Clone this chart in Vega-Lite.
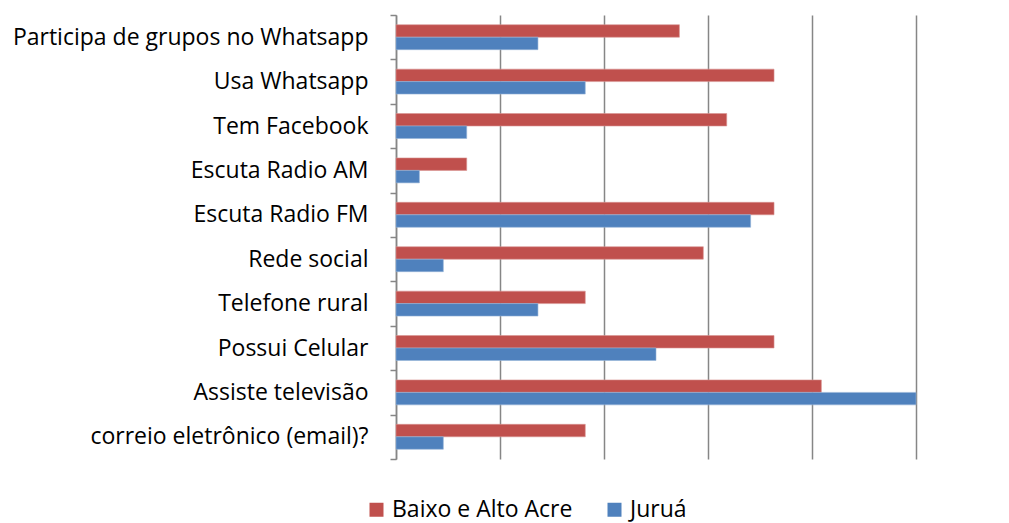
{
  "$schema": "https://vega.github.io/schema/vega-lite/v6.json",
  "width": 520,
  "height": 444,
  "autosize": {"type": "none"},
  "padding": {"left": 396, "top": 15, "right": 93, "bottom": 64},
  "background": "white",
  "config": {"view": {"stroke": null}, "font": "Open Sans"},
  "data": {"values": [
    {"item": "Participa de grupos no Whatsapp", "serie": "Baixo e Alto Acre", "v": 54.5},
    {"item": "Participa de grupos no Whatsapp", "serie": "Juruá", "v": 27.3},
    {"item": "Usa Whatsapp", "serie": "Baixo e Alto Acre", "v": 72.7},
    {"item": "Usa Whatsapp", "serie": "Juruá", "v": 36.4},
    {"item": "Tem Facebook", "serie": "Baixo e Alto Acre", "v": 63.6},
    {"item": "Tem Facebook", "serie": "Juruá", "v": 13.6},
    {"item": "Escuta Radio AM", "serie": "Baixo e Alto Acre", "v": 13.6},
    {"item": "Escuta Radio AM", "serie": "Juruá", "v": 4.5},
    {"item": "Escuta Radio FM", "serie": "Baixo e Alto Acre", "v": 72.7},
    {"item": "Escuta Radio FM", "serie": "Juruá", "v": 68.2},
    {"item": "Rede social", "serie": "Baixo e Alto Acre", "v": 59.1},
    {"item": "Rede social", "serie": "Juruá", "v": 9.1},
    {"item": "Telefone rural", "serie": "Baixo e Alto Acre", "v": 36.4},
    {"item": "Telefone rural", "serie": "Juruá", "v": 27.3},
    {"item": "Possui Celular", "serie": "Baixo e Alto Acre", "v": 72.7},
    {"item": "Possui Celular", "serie": "Juruá", "v": 50.0},
    {"item": "Assiste televisão", "serie": "Baixo e Alto Acre", "v": 81.8},
    {"item": "Assiste televisão", "serie": "Juruá", "v": 100.0},
    {"item": "correio eletrônico (email)?", "serie": "Baixo e Alto Acre", "v": 36.4},
    {"item": "correio eletrônico (email)?", "serie": "Juruá", "v": 9.1}
  ]},
  "mark": {"type": "bar", "strokeWidth": 0.6},
  "encoding": {
    "y": {
      "field": "item", "type": "nominal", "sort": null,
      "scale": {"paddingInner": 0, "paddingOuter": 0},
      "axis": {
        "title": null, "tickBand": "extent", "domainColor": "#868686", "domainWidth": 1.5,
        "tickColor": "#868686", "tickWidth": 1.5, "tickSize": 6, "labelPadding": 22,
        "labelFontSize": 23, "labelColor": "#000000", "labelFont": "Open Sans", "labelLimit": 500
      }
    },
    "yOffset": {
      "field": "serie", "type": "nominal",
      "scale": {"paddingOuter": 0.78, "paddingInner": 0}
    },
    "x": {
      "field": "v", "type": "quantitative",
      "scale": {"domain": [0, 100], "nice": false},
      "axis": {
        "title": null, "values": [0, 20, 40, 60, 80, 100], "labels": false, "ticks": false,
        "domain": false, "grid": true, "gridColor": "#868686", "gridWidth": 1.5
      }
    },
    "color": {
      "field": "serie", "type": "nominal",
      "scale": {"domain": ["Baixo e Alto Acre", "Juruá"], "range": ["#C0504D", "#4F81BD"]},
      "legend": {
        "title": null, "orient": "none", "direction": "horizontal", "legendX": -31, "legendY": 483,
        "symbolType": "square", "symbolSize": 196, "symbolStrokeWidth": 0,
        "labelFontSize": 23, "labelFont": "Open Sans", "labelColor": "#000000", "columnPadding": 30,
        "labelOffset": 4, "labelLimit": 400
      }
    },
    "stroke": {
      "field": "serie", "type": "nominal",
      "scale": {"domain": ["Baixo e Alto Acre", "Juruá"], "range": ["#D99694", "#95B3D7"]},
      "legend": null
    }
  }
}
